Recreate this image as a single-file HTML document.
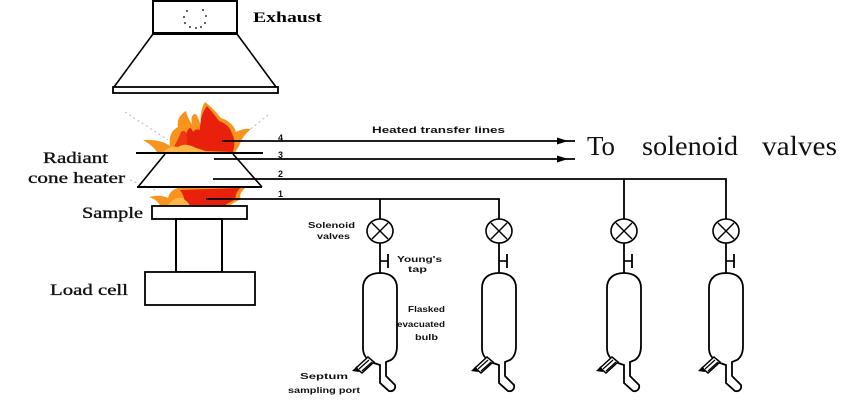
<!DOCTYPE html>
<html><head><meta charset="utf-8"><style>
html,body{margin:0;padding:0;background:#fff;}
svg{display:block;}
</style></head><body>
<svg width="850" height="400" viewBox="0 0 850 400" xmlns="http://www.w3.org/2000/svg">
<defs>
<g id="bulb">
  <ellipse cx="380" cy="231" rx="13" ry="12" fill="none" stroke="#000" stroke-width="1.6"/>
  <line x1="372" y1="223" x2="388" y2="239" stroke="#000" stroke-width="1.4"/>
  <line x1="388" y1="223" x2="372" y2="239" stroke="#000" stroke-width="1.4"/>
  <line x1="380" y1="243" x2="380" y2="273" stroke="#000" stroke-width="1.8"/>
  <line x1="380" y1="261" x2="388" y2="261" stroke="#000" stroke-width="1.6"/>
  <line x1="388" y1="254" x2="388" y2="268" stroke="#000" stroke-width="1.8"/>
  <path d="M380,365 L374,363 C366,359 363,355 363,348 L363,288 C363,278 370,273 380,273 C390,273 397,278 397,288 L397,346 C397,354 394,358 391,360 L386,362 L386,376 L395,385 C396,389 393,392 389,391 L380,383 Z" fill="#fff" stroke="#000" stroke-width="1.8"/>
  <polygon points="356,368 368,357 374,362 362,373" fill="#fff" stroke="#000" stroke-width="1.5"/>
  <line x1="359" y1="369" x2="369" y2="360" stroke="#000" stroke-width="1.2"/>
  <line x1="362" y1="371" x2="372" y2="362" stroke="#000" stroke-width="1.2"/>
  <polygon points="352,371 357,366 359,372" fill="#000"/>
</g>
</defs>

<!-- Exhaust hood -->
<rect x="153" y="1" width="84" height="32" fill="#fff" stroke="#000" stroke-width="2"/>
<line x1="152" y1="33.5" x2="238" y2="33.5" stroke="#000" stroke-width="3"/>
<g fill="#333">
  <circle cx="187" cy="11" r="1"/><circle cx="203" cy="10" r="1"/>
  <circle cx="184" cy="17" r="1"/><circle cx="206" cy="16" r="1"/>
  <circle cx="185" cy="23" r="1"/><circle cx="205" cy="23" r="1"/>
  <circle cx="190" cy="27" r="1"/><circle cx="196" cy="28" r="1"/><circle cx="201" cy="27" r="1"/>
</g>
<line x1="153" y1="34" x2="114" y2="87" stroke="#000" stroke-width="1.6"/>
<line x1="237" y1="34" x2="276" y2="87" stroke="#000" stroke-width="1.6"/>
<rect x="113" y="87" width="165" height="6" fill="#fff" stroke="#000" stroke-width="1.8"/>
<text x="253" y="22" font-family="Liberation Serif, serif" font-size="15" font-weight="bold" textLength="69" lengthAdjust="spacingAndGlyphs">Exhaust</text>

<!-- faint radiant lines -->
<g stroke="#bbb" stroke-width="1" stroke-dasharray="2,3" fill="none">
  <line x1="125" y1="112" x2="168" y2="140"/>
  <line x1="268" y1="115" x2="242" y2="136"/>
  <line x1="130" y1="180" x2="155" y2="190"/>
</g>

<!-- upper flame -->
<path d="M143,140 Q160,139 170,146 Q168,132 178,127 Q176,117 186,111 Q188,119 192,124 Q190,114 196,114 Q199,119 201,127 Q199,111 205,102 Q214,109 221,118 Q233,122 236,132 Q244,128 251,129 Q242,136 239,146 L234,154 L158,154 Q155,147 143,140 Z" fill="#f6941e"/>
<path d="M185,150 Q183,140 187,132 Q190,124 193,132 Q196,128 200,130 Q200,115 207,106 Q214,114 219,121 Q230,125 232,134 Q236,140 233,152 Z" fill="#e8200c"/>
<path d="M172,150 Q178,140 181,132 Q186,128 187,138 Q188,144 186,150 Z" fill="#ee3a12"/>
<path d="M162,153 Q170,145 178,147 Q186,142 196,148 Q204,150 208,153 Z" fill="#fbb848"/>

<!-- cone heater -->
<line x1="136" y1="153" x2="263" y2="153" stroke="#000" stroke-width="2"/>
<line x1="165" y1="154" x2="138" y2="187" stroke="#000" stroke-width="1.6"/>
<line x1="233" y1="154" x2="262" y2="187" stroke="#000" stroke-width="1.6"/>

<!-- lower flame -->
<path d="M149,197 Q160,194 168,198 Q170,190 178,188 L245,188 Q238,195 241,199 Q233,203 229,206 L160,206 Q158,200 149,197 Z" fill="#f6941e"/>
<path d="M180,190 L240,188 Q234,195 236,199 Q228,203 224,206 L184,206 Q186,198 180,190 Z" fill="#e8200c"/>
<path d="M168,205 Q174,197 182,198 Q188,201 190,206 Z" fill="#fbb848"/>
<line x1="137" y1="187" x2="262" y2="187" stroke="#000" stroke-width="2"/>

<!-- sample / load cell -->
<rect x="152" y="206" width="95" height="13" fill="#fff" stroke="#000" stroke-width="1.8"/>
<rect x="176" y="219" width="46" height="53" fill="#fff" stroke="#000" stroke-width="2"/>
<rect x="145" y="272" width="110" height="33" fill="#fff" stroke="#000" stroke-width="1.8"/>

<!-- left labels -->
<g font-family="Liberation Serif, serif" font-size="16" fill="#111" stroke="#111" stroke-width="0.35">
  <text x="43" y="163" textLength="65" lengthAdjust="spacingAndGlyphs">Radiant</text>
  <text x="28" y="183" textLength="97" lengthAdjust="spacingAndGlyphs">cone heater</text>
  <text x="82" y="218" textLength="61" lengthAdjust="spacingAndGlyphs">Sample</text>
  <text x="50" y="295" textLength="78" lengthAdjust="spacingAndGlyphs">Load cell</text>
</g>

<!-- transfer lines -->
<g stroke="#000" stroke-width="1.8" fill="none">
  <line x1="222" y1="141" x2="575" y2="141"/>
  <line x1="214" y1="159" x2="575" y2="159"/>
  <polyline points="213,179 726,179 726,219"/>
  <line x1="624" y1="179" x2="624" y2="219"/>
  <polyline points="206,199 499,199 499,219"/>
  <line x1="380" y1="199" x2="380" y2="219"/>
</g>
<polygon points="557,137.5 568,141 557,144.5" fill="#000"/>
<polygon points="557,155.5 568,159 557,162.5" fill="#000"/>

<g font-family="Liberation Sans, sans-serif" font-size="9" font-weight="bold" fill="#111">
  <text x="278" y="141">4</text>
  <text x="278" y="158">3</text>
  <text x="278" y="177">2</text>
  <text x="278" y="197">1</text>
</g>
<text x="372" y="133" font-family="Liberation Sans, sans-serif" font-size="9" font-weight="bold" fill="#111" textLength="133" lengthAdjust="spacingAndGlyphs">Heated transfer lines</text>

<g font-family="Liberation Serif, serif" font-size="27" fill="#111">
  <text x="587" y="155" textLength="28" lengthAdjust="spacingAndGlyphs">To</text>
  <text x="642" y="155" textLength="96" lengthAdjust="spacingAndGlyphs">solenoid</text>
  <text x="762" y="155" textLength="75" lengthAdjust="spacingAndGlyphs">valves</text>
</g>

<!-- bulbs -->
<use href="#bulb"/>
<use href="#bulb" transform="translate(119,0)"/>
<use href="#bulb" transform="translate(244,0)"/>
<use href="#bulb" transform="translate(346,0)"/>

<!-- small labels -->
<g font-family="Liberation Sans, sans-serif" font-size="8.5" font-weight="bold" fill="#111">
  <text x="308" y="228" textLength="47" lengthAdjust="spacingAndGlyphs">Solenoid</text>
  <text x="317" y="239" textLength="33" lengthAdjust="spacingAndGlyphs">valves</text>
  <text x="397" y="262" textLength="45" lengthAdjust="spacingAndGlyphs">Young's</text>
  <text x="408" y="272" textLength="19" lengthAdjust="spacingAndGlyphs">tap</text>
  <text x="408" y="312" textLength="37" lengthAdjust="spacingAndGlyphs">Flasked</text>
  <text x="397" y="327" textLength="48" lengthAdjust="spacingAndGlyphs">evacuated</text>
  <text x="415" y="340" textLength="23" lengthAdjust="spacingAndGlyphs">bulb</text>
  <text x="300" y="379" textLength="48" lengthAdjust="spacingAndGlyphs">Septum</text>
  <text x="288" y="393" textLength="72" lengthAdjust="spacingAndGlyphs">sampling port</text>
</g>
</svg>
</body></html>
